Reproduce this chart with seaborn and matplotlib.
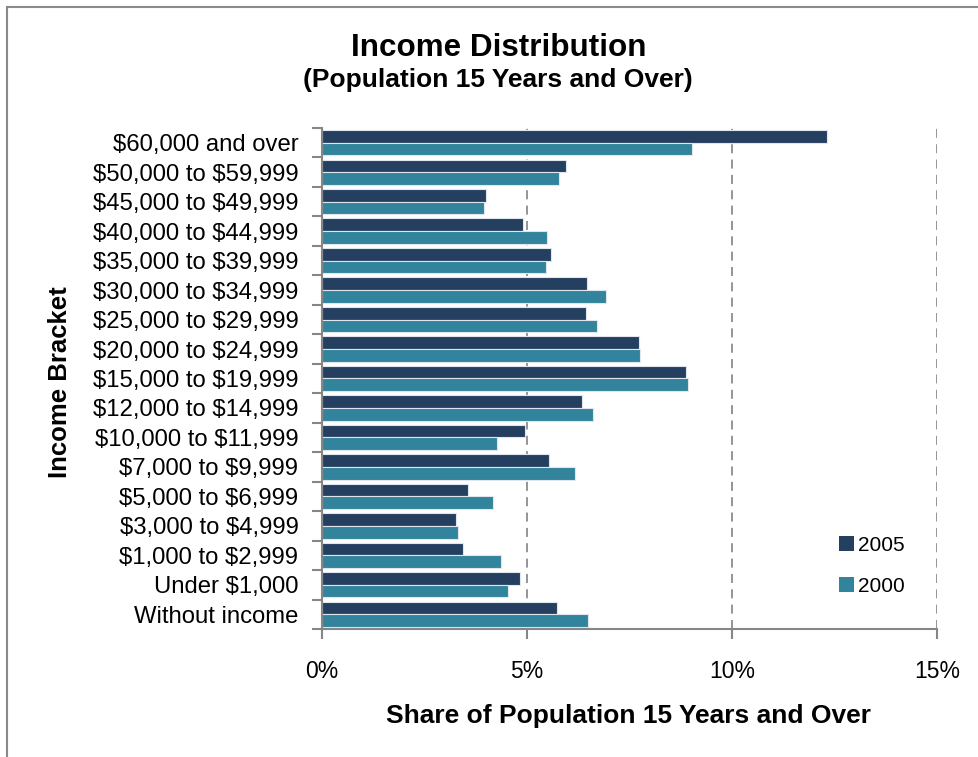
import numpy as np
import pandas as pd
import matplotlib
matplotlib.use("Agg")
import matplotlib.pyplot as plt
from matplotlib.patches import Rectangle
from matplotlib.ticker import PercentFormatter
import seaborn as sns

# Income brackets, top to bottom
brackets = [
    "$60,000 and over", "$50,000 to $59,999", "$45,000 to $49,999",
    "$40,000 to $44,999", "$35,000 to $39,999", "$30,000 to $34,999",
    "$25,000 to $29,999", "$20,000 to $24,999", "$15,000 to $19,999",
    "$12,000 to $14,999", "$10,000 to $11,999", "$7,000 to $9,999",
    "$5,000 to $6,999", "$3,000 to $4,999", "$1,000 to $2,999",
    "Under $1,000", "Without income",
]
# Share of population 15 years and over (%)
share_2005 = [12.32, 5.95, 3.99, 4.91, 5.59, 6.46, 6.44, 7.73, 8.88,
              6.34, 4.96, 5.53, 3.57, 3.28, 3.45, 4.83, 5.73]
share_2000 = [9.02, 5.79, 3.96, 5.48, 5.47, 6.93, 6.71, 7.76, 8.92,
              6.62, 4.27, 6.18, 4.17, 3.32, 4.37, 4.53, 6.49]
years = ["2005", "2000"]
x_ticks = [0, 5, 10, 15]

df = pd.DataFrame({
    "bracket": brackets * 2,
    "year": [years[0]] * len(brackets) + [years[1]] * len(brackets),
    "share": share_2005 + share_2000,
})

sns.set_theme(style="white")
plt.rcParams["font.family"] = ["Liberation Sans", "DejaVu Sans"]
plt.rcParams["text.parse_math"] = False
plt.rcParams["text.color"] = "black"

W, H = 979, 757
fig = plt.figure(figsize=(W / 100, H / 100), dpi=100)
ax = fig.add_axes([322 / W, 1 - 629 / H, (937 - 322) / W, (629 - 128) / H])

axis_grey = "#868686"
sns.barplot(data=df, x="share", y="bracket", hue="year", hue_order=years,
            order=brackets, palette=["#253F60", "#31849B"], saturation=1,
            orient="h", width=0.86, gap=0, errorbar=None,
            edgecolor="#dfe6ee", linewidth=0.8, ax=ax)

ax.set_xlim(0, 15)
ax.set_ylim(len(brackets) - 0.5, -0.5)
ax.set_xticks(x_ticks)
ax.xaxis.set_major_formatter(PercentFormatter(decimals=0))
ax.set_yticks(np.arange(-0.5, len(brackets), 1), minor=True)

ax.grid(False)
for v in x_ticks[1:]:
    ax.axvline(v, color="#8c8c8c", lw=1.3, ls=(0, (5, 3.5)), zorder=0)

for side in ("top", "right"):
    ax.spines[side].set_visible(False)
for side in ("left", "bottom"):
    ax.spines[side].set_color(axis_grey)
    ax.spines[side].set_linewidth(1.5)

ax.tick_params(axis="y", which="major", length=0, pad=17, labelsize=17.2,
               labelcolor="black")
ax.tick_params(axis="y", which="minor", length=7, width=1.5, color=axis_grey,
               direction="out", left=True)
ax.tick_params(axis="x", which="major", length=7, width=1.5, color=axis_grey,
               direction="out", bottom=True, pad=15, labelsize=16.5,
               labelcolor="black")

ax.set_xlabel("")
ax.set_ylabel("")

leg = ax.legend(loc="center left", bbox_to_anchor=(839 / W, 1 - 566 / H),
                bbox_transform=fig.transFigure, frameon=False, fontsize=15,
                handlelength=0.7, handleheight=0.7, handletextpad=0.2,
                labelspacing=1.05, borderpad=0, borderaxespad=0)
for h in leg.legend_handles:
    h.set_edgecolor("none")
for t in leg.get_texts():
    t.set_color("black")

fig.text(0.509, 1 - 48 / H, "Income Distribution", ha="center", va="center",
         fontsize=22.6, fontweight="bold")
fig.text(0.509, 1 - 80 / H, "(Population 15 Years and Over)", ha="center",
         va="center", fontsize=19, fontweight="bold")
fig.text(60 / W, 1 - 382 / H, "Income Bracket", rotation=90, ha="center",
         va="center", fontsize=18.5, fontweight="bold")
fig.text(629 / W, 1 - 716 / H, "Share of Population 15 Years and Over",
         ha="center", va="center", fontsize=19, fontweight="bold")

# chart frame
fig.add_artist(Rectangle((7 / W, -0.1), 1.2, (H - 7) / H + 0.1,
                         transform=fig.transFigure, fill=False,
                         edgecolor="#8a8a8a", lw=1.5, clip_on=False))

fig.savefig("out.png", dpi=100)
